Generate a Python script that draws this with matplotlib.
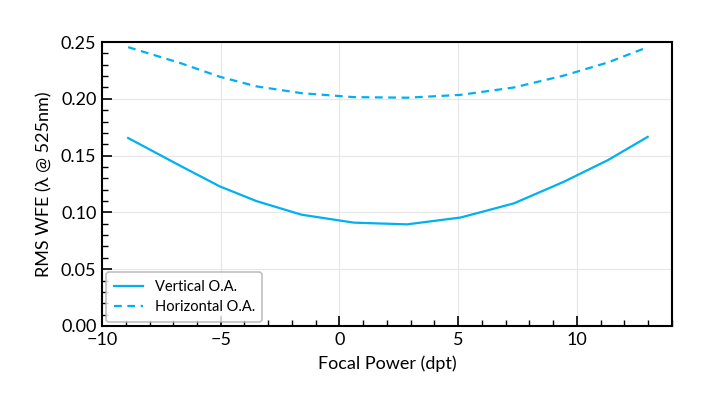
import matplotlib
matplotlib.use("Agg")
import matplotlib.pyplot as plt
from matplotlib.ticker import MultipleLocator

plt.rcParams['font.family'] = ['Lato', 'DejaVu Sans']

# focal power (dpt) and RMS WFE values
power = [-8.9, -6.7, -5.05, -3.5, -1.6, 0.6, 2.85, 5.1, 7.35, 9.45, 11.3, 12.98]
vertical = [0.1655, 0.141, 0.123, 0.110, 0.098, 0.091, 0.0895, 0.0955, 0.108, 0.127, 0.146, 0.1665]
horizontal = [0.2455, 0.2315, 0.2195, 0.211, 0.205, 0.2015, 0.2010, 0.2035, 0.2100, 0.2205, 0.2320, 0.2455]

color = '#00b0f0'

fig = plt.figure(figsize=(7.11, 3.93), dpi=100)
ax = fig.add_axes([0.1435, 0.1705, 0.8015, 0.7225])

ax.plot(power, vertical, color=color, lw=1.6, label='Vertical O.A.')
ax.plot(power, horizontal, color=color, lw=1.6, ls=(0, (3.5, 2.5)), label='Horizontal O.A.')

ax.set_xlim(-10, 14)
ax.set_ylim(0, 0.25)
ax.xaxis.set_major_locator(MultipleLocator(5))
ax.xaxis.set_minor_locator(MultipleLocator(1))
ax.yaxis.set_major_locator(MultipleLocator(0.05))
ax.yaxis.set_minor_locator(MultipleLocator(0.01))
ax.yaxis.set_major_formatter(matplotlib.ticker.FormatStrFormatter('%.2f'))
ax.tick_params(which='both', direction='in', labelsize=13, colors='black')
ax.tick_params(which='major', length=7, width=1.2, pad=4)
ax.tick_params(which='minor', length=4, width=1)
ax.grid(True, which='major', color='#e6e6e6', lw=0.8)
ax.set_axisbelow(True)
for s in ax.spines.values():
    s.set_linewidth(1.5)

ax.set_xlabel('Focal Power (dpt)', fontsize=13, labelpad=6)
ax.set_ylabel('RMS WFE (λ @ 525nm)', fontsize=13, labelpad=6)

leg = ax.legend(loc='lower left', fontsize=10.5, frameon=True, fancybox=True,
                borderaxespad=0.3, handlelength=2.0, labelspacing=0.45,
                borderpad=0.5)
leg.get_frame().set_edgecolor('#b0b0b0')
leg.get_frame().set_linewidth(1.2)

fig.savefig('out.png', dpi=100)
